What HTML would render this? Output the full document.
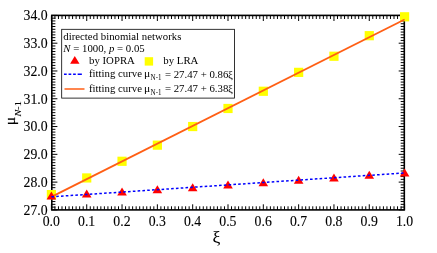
<!DOCTYPE html><html><head><meta charset="utf-8"><style>html,body{margin:0;padding:0;background:#fff}svg{display:block;position:absolute;left:0;top:0;will-change:transform}text{font-family:"Liberation Serif",serif;fill:#000;}</style></head><body>
<svg width="437" height="253" viewBox="0 0 437 253">
<rect width="437" height="253" fill="#fff"/>
<path d="M51.40 209.9v-5.6M51.40 15.4v5.6M54.93 209.9v-3.6M54.93 15.4v3.6M58.46 209.9v-3.6M58.46 15.4v3.6M62.00 209.9v-3.6M62.00 15.4v3.6M65.53 209.9v-3.6M65.53 15.4v3.6M69.06 209.9v-3.6M69.06 15.4v3.6M72.59 209.9v-3.6M72.59 15.4v3.6M76.12 209.9v-3.6M76.12 15.4v3.6M79.66 209.9v-3.6M79.66 15.4v3.6M83.19 209.9v-3.6M83.19 15.4v3.6M86.72 209.9v-5.6M86.72 15.4v5.6M90.25 209.9v-3.6M90.25 15.4v3.6M93.78 209.9v-3.6M93.78 15.4v3.6M97.32 209.9v-3.6M97.32 15.4v3.6M100.85 209.9v-3.6M100.85 15.4v3.6M104.38 209.9v-3.6M104.38 15.4v3.6M107.91 209.9v-3.6M107.91 15.4v3.6M111.44 209.9v-3.6M111.44 15.4v3.6M114.98 209.9v-3.6M114.98 15.4v3.6M118.51 209.9v-3.6M118.51 15.4v3.6M122.04 209.9v-5.6M122.04 15.4v5.6M125.57 209.9v-3.6M125.57 15.4v3.6M129.10 209.9v-3.6M129.10 15.4v3.6M132.64 209.9v-3.6M132.64 15.4v3.6M136.17 209.9v-3.6M136.17 15.4v3.6M139.70 209.9v-3.6M139.70 15.4v3.6M143.23 209.9v-3.6M143.23 15.4v3.6M146.76 209.9v-3.6M146.76 15.4v3.6M150.30 209.9v-3.6M150.30 15.4v3.6M153.83 209.9v-3.6M153.83 15.4v3.6M157.36 209.9v-5.6M157.36 15.4v5.6M160.89 209.9v-3.6M160.89 15.4v3.6M164.42 209.9v-3.6M164.42 15.4v3.6M167.96 209.9v-3.6M167.96 15.4v3.6M171.49 209.9v-3.6M171.49 15.4v3.6M175.02 209.9v-3.6M175.02 15.4v3.6M178.55 209.9v-3.6M178.55 15.4v3.6M182.08 209.9v-3.6M182.08 15.4v3.6M185.62 209.9v-3.6M185.62 15.4v3.6M189.15 209.9v-3.6M189.15 15.4v3.6M192.68 209.9v-5.6M192.68 15.4v5.6M196.21 209.9v-3.6M196.21 15.4v3.6M199.74 209.9v-3.6M199.74 15.4v3.6M203.28 209.9v-3.6M203.28 15.4v3.6M206.81 209.9v-3.6M206.81 15.4v3.6M210.34 209.9v-3.6M210.34 15.4v3.6M213.87 209.9v-3.6M213.87 15.4v3.6M217.40 209.9v-3.6M217.40 15.4v3.6M220.94 209.9v-3.6M220.94 15.4v3.6M224.47 209.9v-3.6M224.47 15.4v3.6M228.00 209.9v-5.6M228.00 15.4v5.6M231.53 209.9v-3.6M231.53 15.4v3.6M235.06 209.9v-3.6M235.06 15.4v3.6M238.60 209.9v-3.6M238.60 15.4v3.6M242.13 209.9v-3.6M242.13 15.4v3.6M245.66 209.9v-3.6M245.66 15.4v3.6M249.19 209.9v-3.6M249.19 15.4v3.6M252.72 209.9v-3.6M252.72 15.4v3.6M256.26 209.9v-3.6M256.26 15.4v3.6M259.79 209.9v-3.6M259.79 15.4v3.6M263.32 209.9v-5.6M263.32 15.4v5.6M266.85 209.9v-3.6M266.85 15.4v3.6M270.38 209.9v-3.6M270.38 15.4v3.6M273.92 209.9v-3.6M273.92 15.4v3.6M277.45 209.9v-3.6M277.45 15.4v3.6M280.98 209.9v-3.6M280.98 15.4v3.6M284.51 209.9v-3.6M284.51 15.4v3.6M288.04 209.9v-3.6M288.04 15.4v3.6M291.58 209.9v-3.6M291.58 15.4v3.6M295.11 209.9v-3.6M295.11 15.4v3.6M298.64 209.9v-5.6M298.64 15.4v5.6M302.17 209.9v-3.6M302.17 15.4v3.6M305.70 209.9v-3.6M305.70 15.4v3.6M309.24 209.9v-3.6M309.24 15.4v3.6M312.77 209.9v-3.6M312.77 15.4v3.6M316.30 209.9v-3.6M316.30 15.4v3.6M319.83 209.9v-3.6M319.83 15.4v3.6M323.36 209.9v-3.6M323.36 15.4v3.6M326.90 209.9v-3.6M326.90 15.4v3.6M330.43 209.9v-3.6M330.43 15.4v3.6M333.96 209.9v-5.6M333.96 15.4v5.6M337.49 209.9v-3.6M337.49 15.4v3.6M341.02 209.9v-3.6M341.02 15.4v3.6M344.56 209.9v-3.6M344.56 15.4v3.6M348.09 209.9v-3.6M348.09 15.4v3.6M351.62 209.9v-3.6M351.62 15.4v3.6M355.15 209.9v-3.6M355.15 15.4v3.6M358.68 209.9v-3.6M358.68 15.4v3.6M362.22 209.9v-3.6M362.22 15.4v3.6M365.75 209.9v-3.6M365.75 15.4v3.6M369.28 209.9v-5.6M369.28 15.4v5.6M372.81 209.9v-3.6M372.81 15.4v3.6M376.34 209.9v-3.6M376.34 15.4v3.6M379.88 209.9v-3.6M379.88 15.4v3.6M383.41 209.9v-3.6M383.41 15.4v3.6M386.94 209.9v-3.6M386.94 15.4v3.6M390.47 209.9v-3.6M390.47 15.4v3.6M394.00 209.9v-3.6M394.00 15.4v3.6M397.54 209.9v-3.6M397.54 15.4v3.6M401.07 209.9v-3.6M401.07 15.4v3.6M404.60 209.9v-5.6M404.60 15.4v5.6M51.8 209.90h5.6M404.3 209.90h-5.6M51.8 207.12h3.6M404.3 207.12h-3.6M51.8 204.34h3.6M404.3 204.34h-3.6M51.8 201.56h3.6M404.3 201.56h-3.6M51.8 198.79h3.6M404.3 198.79h-3.6M51.8 196.01h3.6M404.3 196.01h-3.6M51.8 193.23h3.6M404.3 193.23h-3.6M51.8 190.45h3.6M404.3 190.45h-3.6M51.8 187.67h3.6M404.3 187.67h-3.6M51.8 184.89h3.6M404.3 184.89h-3.6M51.8 182.11h5.6M404.3 182.11h-5.6M51.8 179.34h3.6M404.3 179.34h-3.6M51.8 176.56h3.6M404.3 176.56h-3.6M51.8 173.78h3.6M404.3 173.78h-3.6M51.8 171.00h3.6M404.3 171.00h-3.6M51.8 168.22h3.6M404.3 168.22h-3.6M51.8 165.44h3.6M404.3 165.44h-3.6M51.8 162.66h3.6M404.3 162.66h-3.6M51.8 159.89h3.6M404.3 159.89h-3.6M51.8 157.11h3.6M404.3 157.11h-3.6M51.8 154.33h5.6M404.3 154.33h-5.6M51.8 151.55h3.6M404.3 151.55h-3.6M51.8 148.77h3.6M404.3 148.77h-3.6M51.8 145.99h3.6M404.3 145.99h-3.6M51.8 143.21h3.6M404.3 143.21h-3.6M51.8 140.44h3.6M404.3 140.44h-3.6M51.8 137.66h3.6M404.3 137.66h-3.6M51.8 134.88h3.6M404.3 134.88h-3.6M51.8 132.10h3.6M404.3 132.10h-3.6M51.8 129.32h3.6M404.3 129.32h-3.6M51.8 126.54h5.6M404.3 126.54h-5.6M51.8 123.76h3.6M404.3 123.76h-3.6M51.8 120.99h3.6M404.3 120.99h-3.6M51.8 118.21h3.6M404.3 118.21h-3.6M51.8 115.43h3.6M404.3 115.43h-3.6M51.8 112.65h3.6M404.3 112.65h-3.6M51.8 109.87h3.6M404.3 109.87h-3.6M51.8 107.09h3.6M404.3 107.09h-3.6M51.8 104.31h3.6M404.3 104.31h-3.6M51.8 101.54h3.6M404.3 101.54h-3.6M51.8 98.76h5.6M404.3 98.76h-5.6M51.8 95.98h3.6M404.3 95.98h-3.6M51.8 93.20h3.6M404.3 93.20h-3.6M51.8 90.42h3.6M404.3 90.42h-3.6M51.8 87.64h3.6M404.3 87.64h-3.6M51.8 84.86h3.6M404.3 84.86h-3.6M51.8 82.09h3.6M404.3 82.09h-3.6M51.8 79.31h3.6M404.3 79.31h-3.6M51.8 76.53h3.6M404.3 76.53h-3.6M51.8 73.75h3.6M404.3 73.75h-3.6M51.8 70.97h5.6M404.3 70.97h-5.6M51.8 68.19h3.6M404.3 68.19h-3.6M51.8 65.41h3.6M404.3 65.41h-3.6M51.8 62.64h3.6M404.3 62.64h-3.6M51.8 59.86h3.6M404.3 59.86h-3.6M51.8 57.08h3.6M404.3 57.08h-3.6M51.8 54.30h3.6M404.3 54.30h-3.6M51.8 51.52h3.6M404.3 51.52h-3.6M51.8 48.74h3.6M404.3 48.74h-3.6M51.8 45.96h3.6M404.3 45.96h-3.6M51.8 43.19h5.6M404.3 43.19h-5.6M51.8 40.41h3.6M404.3 40.41h-3.6M51.8 37.63h3.6M404.3 37.63h-3.6M51.8 34.85h3.6M404.3 34.85h-3.6M51.8 32.07h3.6M404.3 32.07h-3.6M51.8 29.29h3.6M404.3 29.29h-3.6M51.8 26.51h3.6M404.3 26.51h-3.6M51.8 23.74h3.6M404.3 23.74h-3.6M51.8 20.96h3.6M404.3 20.96h-3.6M51.8 18.18h3.6M404.3 18.18h-3.6M51.8 15.40h5.6M404.3 15.40h-5.6" stroke="#000" stroke-width="1.0" fill="none"/>
<rect x="51.8" y="15.4" width="352.50" height="194.50" fill="none" stroke="#000" stroke-width="1.6"/>
<text transform="translate(51.30,226.00) scale(1,1.015)" font-size="13.8" text-anchor="middle" stroke="#000" stroke-width="0.1">0.0</text>
<text transform="translate(86.62,226.00) scale(1,1.015)" font-size="13.8" text-anchor="middle" stroke="#000" stroke-width="0.1">0.1</text>
<text transform="translate(121.94,226.00) scale(1,1.015)" font-size="13.8" text-anchor="middle" stroke="#000" stroke-width="0.1">0.2</text>
<text transform="translate(157.26,226.00) scale(1,1.015)" font-size="13.8" text-anchor="middle" stroke="#000" stroke-width="0.1">0.3</text>
<text transform="translate(192.58,226.00) scale(1,1.015)" font-size="13.8" text-anchor="middle" stroke="#000" stroke-width="0.1">0.4</text>
<text transform="translate(227.90,226.00) scale(1,1.015)" font-size="13.8" text-anchor="middle" stroke="#000" stroke-width="0.1">0.5</text>
<text transform="translate(263.22,226.00) scale(1,1.015)" font-size="13.8" text-anchor="middle" stroke="#000" stroke-width="0.1">0.6</text>
<text transform="translate(298.54,226.00) scale(1,1.015)" font-size="13.8" text-anchor="middle" stroke="#000" stroke-width="0.1">0.7</text>
<text transform="translate(333.86,226.00) scale(1,1.015)" font-size="13.8" text-anchor="middle" stroke="#000" stroke-width="0.1">0.8</text>
<text transform="translate(369.18,226.00) scale(1,1.015)" font-size="13.8" text-anchor="middle" stroke="#000" stroke-width="0.1">0.9</text>
<text transform="translate(404.50,226.00) scale(1,1.015)" font-size="13.8" text-anchor="middle" stroke="#000" stroke-width="0.1">1.0</text>
<text transform="translate(47.70,214.70) scale(1,1.015)" font-size="13.8" text-anchor="end" stroke="#000" stroke-width="0.1">27.0</text>
<text transform="translate(47.70,186.91) scale(1,1.015)" font-size="13.8" text-anchor="end" stroke="#000" stroke-width="0.1">28.0</text>
<text transform="translate(47.70,159.13) scale(1,1.015)" font-size="13.8" text-anchor="end" stroke="#000" stroke-width="0.1">29.0</text>
<text transform="translate(47.70,131.34) scale(1,1.015)" font-size="13.8" text-anchor="end" stroke="#000" stroke-width="0.1">30.0</text>
<text transform="translate(47.70,103.56) scale(1,1.015)" font-size="13.8" text-anchor="end" stroke="#000" stroke-width="0.1">31.0</text>
<text transform="translate(47.70,75.77) scale(1,1.015)" font-size="13.8" text-anchor="end" stroke="#000" stroke-width="0.1">32.0</text>
<text transform="translate(47.70,47.99) scale(1,1.015)" font-size="13.8" text-anchor="end" stroke="#000" stroke-width="0.1">33.0</text>
<text transform="translate(47.70,20.20) scale(1,1.015)" font-size="13.8" text-anchor="end" stroke="#000" stroke-width="0.1">34.0</text>
<text transform="translate(216.30,243.00) scale(1,0.95)" font-size="17.6" text-anchor="middle" stroke="#000" stroke-width="0.1">ξ</text>
<text transform="translate(15,125.2) rotate(-90) scale(1.11,1)" font-size="14" stroke="#000" stroke-width="0.22">μ</text>
<text transform="translate(20.6,116.6) rotate(-90) scale(1.14,1)" font-size="9" stroke="#000" stroke-width="0.08"><tspan font-style="italic">N</tspan>-1</text>
<rect x="46.80" y="190.02" width="9.2" height="9.2" fill="#ffff00"/>
<rect x="82.12" y="173.35" width="9.2" height="9.2" fill="#ffff00"/>
<rect x="117.44" y="156.68" width="9.2" height="9.2" fill="#ffff00"/>
<rect x="152.76" y="140.56" width="9.2" height="9.2" fill="#ffff00"/>
<rect x="188.08" y="121.94" width="9.2" height="9.2" fill="#ffff00"/>
<rect x="223.40" y="103.88" width="9.2" height="9.2" fill="#ffff00"/>
<rect x="258.72" y="86.66" width="9.2" height="9.2" fill="#ffff00"/>
<rect x="294.04" y="67.76" width="9.2" height="9.2" fill="#ffff00"/>
<rect x="329.36" y="51.64" width="9.2" height="9.2" fill="#ffff00"/>
<rect x="364.68" y="31.08" width="9.2" height="9.2" fill="#ffff00"/>
<rect x="400.00" y="12.19" width="9.2" height="9.2" fill="#ffff00"/>
<line x1="51.40" y1="196.84" x2="404.60" y2="19.57" stroke="#ff5e14" stroke-width="1.8"/>
<path d="M46.60 199.61L56.20 199.61L51.40 191.61Z" fill="#ff0000"/>
<path d="M81.92 197.38L91.52 197.38L86.72 189.38Z" fill="#ff0000"/>
<path d="M117.24 195.44L126.84 195.44L122.04 187.44Z" fill="#ff0000"/>
<path d="M152.56 193.22L162.16 193.22L157.36 185.22Z" fill="#ff0000"/>
<path d="M187.88 191.27L197.48 191.27L192.68 183.27Z" fill="#ff0000"/>
<path d="M223.20 188.49L232.80 188.49L228.00 180.49Z" fill="#ff0000"/>
<path d="M258.52 186.27L268.12 186.27L263.32 178.27Z" fill="#ff0000"/>
<path d="M293.84 183.77L303.44 183.77L298.64 175.77Z" fill="#ff0000"/>
<path d="M329.16 181.55L338.76 181.55L333.96 173.55Z" fill="#ff0000"/>
<path d="M364.48 178.77L374.08 178.77L369.28 170.77Z" fill="#ff0000"/>
<path d="M399.80 176.55L409.40 176.55L404.60 168.55Z" fill="#ff0000"/>
<line x1="51.40" y1="196.84" x2="404.60" y2="172.95" stroke="#0000ff" stroke-width="1.5" stroke-dasharray="2.6 2.2"/>
<rect x="61.7" y="29.3" width="172.8" height="68.8" fill="#fff" stroke="#000" stroke-width="0.8"/>
<text transform="translate(63.30,39.90) scale(1,0.9)" font-size="10.8" text-anchor="start" >directed binomial networks</text>
<text transform="translate(63.30,52.00) scale(1,0.9)" font-size="10.8" text-anchor="start" ><tspan font-style="italic">N</tspan> = 1000, <tspan font-style="italic">p</tspan> = 0.05</text>
<path d="M70.1 63.7L79.5 63.7L74.8 55.9Z" fill="#ff0000"/>
<text transform="translate(89.00,64.10) scale(1,0.9)" font-size="10.8" text-anchor="start" >by IOPRA</text>
<rect x="144.7" y="57.2" width="8.4" height="8.4" fill="#ffff00"/>
<text transform="translate(163.30,64.10) scale(1,0.9)" font-size="10.8" text-anchor="start" >by LRA</text>
<line x1="64" y1="74.3" x2="82" y2="74.3" stroke="#0000ff" stroke-width="1.4" stroke-dasharray="2.7 1.85 2.7 1.85 2.7 1.85 4.2 9"/>
<line x1="64.5" y1="89" x2="84.5" y2="89" stroke="#ff5e14" stroke-width="1.5"/>
<text transform="translate(89.00,77.20) scale(1,0.9)" font-size="10.8" text-anchor="start" >fitting curve</text>
<text transform="translate(144.00,77.20) scale(1,0.9)" font-size="11.6" text-anchor="start" >μ</text>
<text transform="translate(150.60,80.00) scale(1,1.1)" font-size="7.0" text-anchor="start" fill="#333">N-1</text>
<text transform="translate(164.90,77.70) scale(1,1.03)" font-size="10.8" text-anchor="start" >= 27.47 + 0.86<tspan font-size="11" dx="-0.3">ξ</tspan></text>
<text transform="translate(89.00,91.90) scale(1,0.9)" font-size="10.8" text-anchor="start" >fitting curve</text>
<text transform="translate(144.00,91.90) scale(1,0.9)" font-size="11.6" text-anchor="start" >μ</text>
<text transform="translate(150.60,94.70) scale(1,1.1)" font-size="7.0" text-anchor="start" fill="#333">N-1</text>
<text transform="translate(164.90,92.40) scale(1,1.03)" font-size="10.8" text-anchor="start" >= 27.47 + 6.38<tspan font-size="11" dx="-0.3">ξ</tspan></text>
</svg></body></html>
